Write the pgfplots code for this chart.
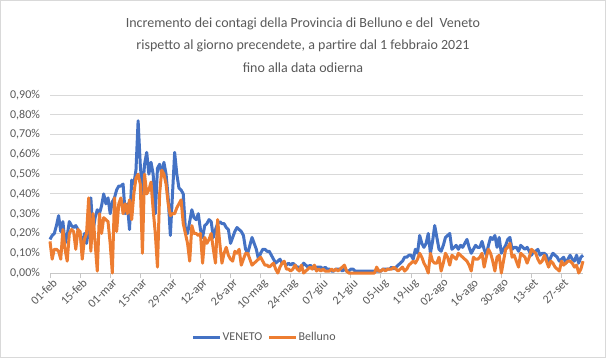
\documentclass[border=0pt]{standalone}
\usepackage{pgfplots}
\pgfplotsset{compat=1.18}
\usepackage{pgfplotstable}
\usepackage{fontspec}
\setmainfont{Carlito}
\definecolor{ven}{HTML}{4472C4}
\definecolor{bel}{HTML}{ED7D31}
\definecolor{txt}{HTML}{595959}
\definecolor{grd}{HTML}{D9D9D9}
\pgfplotstableread{
d v
0 0.17
1 0.19
2 0.20
3 0.24
4 0.29
5 0.21
6 0.26
7 0.15
8 0.19
9 0.26
10 0.24
11 0.23
12 0.24
13 0.22
14 0.20
15 0.13
16 0.20
17 0.15
18 0.22
19 0.38
20 0.21
21 0.28
22 0.32
23 0.30
24 0.34
25 0.40
26 0.35
27 0.38
28 0.30
29 0.36
30 0.38
31 0.42
32 0.44
33 0.44
34 0.45
35 0.30
36 0.35
37 0.22
38 0.47
39 0.45
40 0.52
41 0.77
42 0.55
43 0.40
44 0.55
45 0.61
46 0.50
47 0.56
48 0.50
49 0.30
50 0.53
51 0.55
52 0.50
53 0.56
54 0.50
55 0.38
56 0.19
57 0.40
58 0.61
59 0.50
60 0.43
61 0.42
62 0.40
63 0.22
64 0.20
65 0.26
66 0.32
67 0.28
68 0.27
69 0.30
70 0.22
71 0.18
72 0.24
73 0.25
74 0.27
75 0.26
76 0.18
77 0.22
78 0.25
79 0.26
80 0.25
81 0.25
82 0.23
83 0.22
84 0.15
85 0.18
86 0.21
87 0.23
88 0.22
89 0.21
90 0.19
91 0.12
92 0.10
93 0.14
94 0.18
95 0.15
96 0.12
97 0.07
98 0.10
99 0.12
100 0.12
101 0.11
102 0.11
103 0.09
104 0.07
105 0.05
106 0.06
107 0.07
108 0.05
109 0.05
110 0.04
111 0.05
112 0.04
113 0.05
114 0.04
115 0.03
116 0.03
117 0.03
118 0.05
119 0.04
120 0.03
121 0.04
122 0.03
123 0.02
124 0.03
125 0.03
126 0.03
127 0.02
128 0.03
129 0.02
130 0.02
131 0.01
132 0.01
133 0.02
134 0.02
135 0.02
136 0.01
137 0.02
138 0.01
139 0.01
140 0.02
141 0.02
142 0.01
143 0.01
144 0.01
145 0.01
146 0.01
147 0.01
148 0.01
149 0.01
150 0.01
151 0.01
152 0.01
153 0.01
154 0.01
155 0.02
156 0.02
157 0.02
158 0.02
159 0.03
160 0.02
161 0.03
162 0.04
163 0.05
164 0.06
165 0.08
166 0.08
167 0.09
168 0.09
169 0.07
170 0.12
171 0.10
172 0.19
173 0.15
174 0.13
175 0.15
176 0.20
177 0.10
178 0.16
179 0.24
180 0.18
181 0.12
182 0.11
183 0.14
184 0.18
185 0.19
186 0.20
187 0.12
188 0.13
189 0.14
190 0.12
191 0.14
192 0.13
193 0.15
194 0.17
195 0.13
196 0.10
197 0.12
198 0.14
199 0.13
200 0.13
201 0.16
202 0.12
203 0.09
204 0.14
205 0.18
206 0.17
207 0.19
208 0.13
209 0.18
210 0.10
211 0.12
212 0.14
213 0.17
214 0.18
215 0.12
216 0.13
217 0.13
218 0.11
219 0.14
220 0.13
221 0.12
222 0.13
223 0.11
224 0.09
225 0.11
226 0.11
227 0.12
228 0.09
229 0.10
230 0.10
231 0.09
232 0.05
233 0.08
234 0.10
235 0.09
236 0.08
237 0.06
238 0.07
239 0.08
240 0.05
241 0.07
242 0.09
243 0.07
244 0.06
245 0.09
246 0.05
247 0.08
248 0.09
}\veneto
\pgfplotstableread{
d v
0 0.16
1 0.07
2 0.12
3 0.12
4 0.11
5 0.07
6 0.22
7 0.12
8 0.06
9 0.20
10 0.22
11 0.21
12 0.12
13 0.22
14 0.21
15 0.07
16 0.17
17 0.20
18 0.38
19 0.11
20 0.30
21 0.15
22 0.01
23 0.30
24 0.20
25 0.28
26 0.27
27 0.26
28 0.15
29 0.00
30 0.38
31 0.21
32 0.35
33 0.38
34 0.30
35 0.35
36 0.30
37 0.37
38 0.27
39 0.40
40 0.48
41 0.50
42 0.45
43 0.10
44 0.50
45 0.40
46 0.42
47 0.46
48 0.32
49 0.20
50 0.03
51 0.40
52 0.52
53 0.50
54 0.45
55 0.35
56 0.29
57 0.30
58 0.30
59 0.33
60 0.35
61 0.37
62 0.25
63 0.20
64 0.15
65 0.06
66 0.24
67 0.20
68 0.20
69 0.19
70 0.20
71 0.05
72 0.18
73 0.15
74 0.17
75 0.20
76 0.12
77 0.05
78 0.27
79 0.15
80 0.05
81 0.10
82 0.13
83 0.09
84 0.07
85 0.06
86 0.11
87 0.10
88 0.12
89 0.04
90 0.07
91 0.10
92 0.10
93 0.07
94 0.04
95 0.05
96 0.06
97 0.07
98 0.08
99 0.06
100 0.04
101 0.04
102 0.03
103 0.04
104 0.05
105 0.02
106 0.00
107 0.03
108 0.05
109 0.06
110 0.02
111 0.02
112 0.01
113 0.02
114 0.04
115 0.02
116 0.01
117 0.04
118 0.00
119 0.01
120 0.02
121 0.03
122 0.02
123 0.04
124 0.01
125 0.02
126 0.01
127 0.02
128 0.01
129 0.01
130 0.01
131 0.02
132 0.01
133 0.02
134 0.01
135 0.02
136 0.03
137 0.04
138 0.01
139 0.00
140 0.00
141 0.00
142 0.00
143 0.00
144 0.00
145 0.00
146 0.00
147 0.00
148 0.00
149 0.00
150 0.00
151 0.00
152 0.03
153 0.01
154 0.01
155 0.02
156 0.01
157 0.02
158 0.02
159 0.02
160 0.03
161 0.02
162 0.01
163 0.02
164 0.03
165 0.01
166 0.02
167 0.04
168 0.05
169 0.06
170 0.05
171 0.07
172 0.10
173 0.08
174 0.05
175 0.03
176 0.00
177 0.10
178 0.06
179 0.05
180 0.05
181 0.08
182 0.01
183 0.05
184 0.10
185 0.08
186 0.04
187 0.09
188 0.08
189 0.07
190 0.10
191 0.09
192 0.08
193 0.07
194 0.06
195 0.04
196 0.01
197 0.08
198 0.07
199 0.07
200 0.08
201 0.10
202 0.03
203 0.08
204 0.12
205 0.10
206 0.06
207 0.01
208 0.08
209 0.09
210 0.00
211 0.06
212 0.12
213 0.13
214 0.15
215 0.08
216 0.09
217 0.06
218 0.03
219 0.10
220 0.09
221 0.08
222 0.05
223 0.08
224 0.12
225 0.11
226 0.10
227 0.07
228 0.05
229 0.06
230 0.09
231 0.06
232 0.03
233 0.06
234 0.05
235 0.03
236 0.02
237 0.01
238 0.06
239 0.04
240 0.05
241 0.06
242 0.06
243 0.05
244 0.03
245 0.04
246 0.00
247 0.02
248 0.06
}\belluno
\begin{document}
\begin{tikzpicture}
\begin{axis}[
  at={(0pt,0pt)}, anchor=south west,
  scale only axis, width=399.75pt, height=133.5pt,
  xmin=0, xmax=248, ymin=0, ymax=0.9,
  axis line style={draw=none},
  axis x line*=bottom,
  x axis line style={draw=grd!80!gray},
  ytick={0,0.1,...,0.9},
  ymajorgrids, grid style={grd, line width=0.75pt},
  yticklabel={\pgfmathprintnumber[fixed,fixed zerofill,precision=2,use comma,assume math mode=true]{\tick}\%},
  xtick={0,14,...,238},
  xticklabels={01-feb,15-feb,01-mar,15-mar,29-mar,12-apr,26-apr,10-mag,24-mag,07-giu,21-giu,05-lug,19-lug,02-ago,16-ago,30-ago,13-set,27-set},
  x tick label style={rotate=45, anchor=north east, inner sep=0.5pt, xshift=2pt},
  tick label style={font=\fontsize{9}{10}\selectfont, text=txt},
  ytick style={draw=none},
  xtick style={draw=grd!80!gray, line width=0.75pt},
  tick align=outside,
  major tick length=4pt,
  clip=false,
  legend style={at={(0.402,-0.36)}, anchor=center, draw=none, fill=none,
    legend columns=2, font=\fontsize{9}{11}\selectfont, text=txt,
    nodes={inner sep=1pt},
    /tikz/every even column/.append style={column sep=3pt}},
  legend image code/.code={\draw[#1, line width=2.25pt] (0,0) -- (20pt,0);},
]
\addplot[ven, line width=2.25pt, line join=round] table[x=d,y=v] {\veneto};
\addlegendentry{VENETO}
\addplot[bel, line width=2.25pt, line join=round] table[x=d,y=v] {\belluno};
\addlegendentry{Belluno}
\end{axis}
\node[align=center, text=txt, font=\fontsize{10.5}{16.9}\selectfont] at (189.75pt,171pt)
  {Incremento dei contagi della Provincia di Belluno e del \ Veneto\\
   rispetto al giorno precendete, a partire dal 1 febbraio 2021\\
   fino alla data odierna};
\draw[draw=grd, line width=0.75pt] (-37.1pt,-63.4pt) rectangle (416.6pt,204.4pt);
\useasboundingbox (-37.5pt,-63.75pt) rectangle (417pt,204.75pt);
\end{tikzpicture}
\end{document}
